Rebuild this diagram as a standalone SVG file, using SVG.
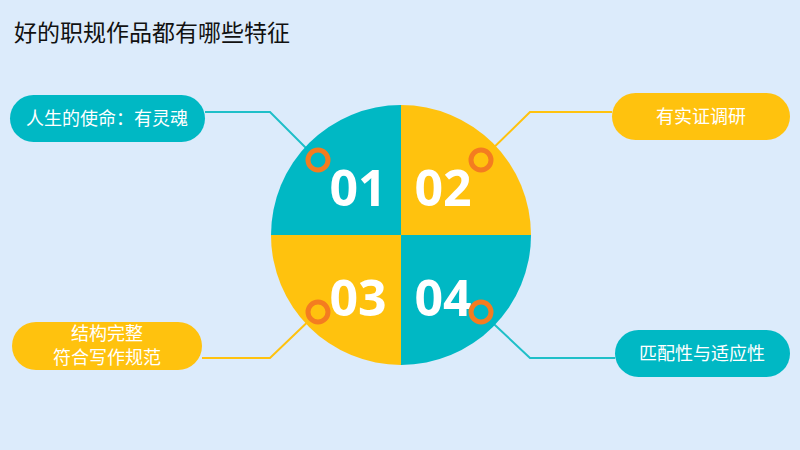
<svg xmlns="http://www.w3.org/2000/svg" width="800" height="450" viewBox="0 0 800 450">
<style>
.t{font-family:"Noto Sans CJK SC","Noto Sans",sans-serif}
.num{font-family:"Open Sans","Noto Sans",sans-serif;font-weight:bold;font-size:50px;fill:#fff;text-anchor:middle}
.lbl{font-size:18px;fill:#fff;text-anchor:middle}
.ring{fill:none;stroke:#f47c20;stroke-width:5}
.ln{fill:none;stroke-width:2}
</style>
<rect width="800" height="450" fill="#dcebfb"/>
<text class="t" x="14" y="41" font-size="23" fill="#111">好的职规作品都有哪些特征</text>
<g id="connectors">
<polyline class="ln" stroke="#1fbfc8" points="205,112 270,112 318,160"/>
<polyline class="ln" stroke="#ffc20e" points="612,112 530,112 481,160"/>
<polyline class="ln" stroke="#ffc20e" points="202,358 270,358 318,312"/>
<polyline class="ln" stroke="#1fbfc8" points="615,358 530,358 481,312"/>
</g>
<g id="circle">
<path d="M401,235 L271,235 A130,130 0 0 1 401,105 Z" fill="#00b8c4"/>
<path d="M401,235 L401,105 A130,130 0 0 1 531,235 Z" fill="#ffc20e"/>
<path d="M401,235 L271,235 A130,130 0 0 0 401,365 Z" fill="#ffc20e"/>
<path d="M401,235 L531,235 A130,130 0 0 1 401,365 Z" fill="#00b8c4"/>
<text class="num" x="358" y="206">01</text>
<text class="num" x="443" y="206">02</text>
<text class="num" x="358" y="316">03</text>
<text class="num" x="443" y="316">04</text>
<circle class="ring" cx="318" cy="160" r="10"/>
<circle class="ring" cx="481" cy="160" r="10"/>
<circle class="ring" cx="318" cy="312" r="10"/>
<circle class="ring" cx="481" cy="312" r="10"/>
</g>
<g id="n1"><rect x="10" y="95" width="195" height="47" rx="23.5" fill="#00b8c4"/><text class="t lbl" x="107" y="125">人生的使命：有灵魂</text></g>
<g id="n2"><rect x="612" y="93" width="178" height="47" rx="23.5" fill="#ffc20e"/><text class="t lbl" x="701" y="123">有实证调研</text></g>
<g id="n3"><rect x="12" y="322" width="190" height="48" rx="24" fill="#ffc20e"/><text class="t lbl" x="107" y="340" font-size="16">结构完整</text><text class="t lbl" x="107" y="364" font-size="16">符合写作规范</text></g>
<g id="n4"><rect x="615" y="330" width="175" height="47" rx="23.5" fill="#00b8c4"/><text class="t lbl" x="702" y="360">匹配性与适应性</text></g>
</svg>
